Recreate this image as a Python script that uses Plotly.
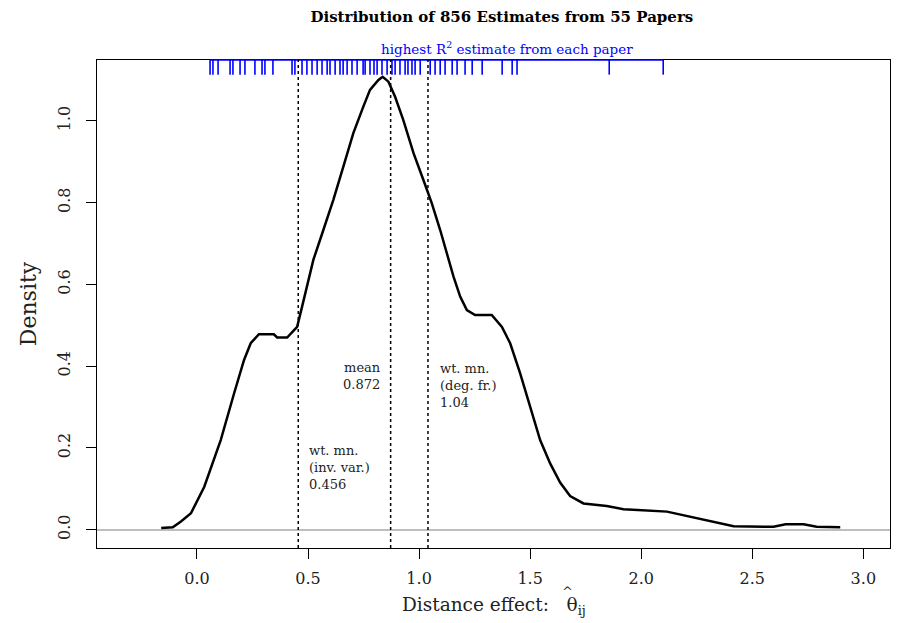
import plotly.graph_objects as go

# kernel density curve
dens_x = [-0.161, -0.109, -0.072, -0.027, 0.033, 0.107, 0.167, 0.212, 0.242, 0.279,
          0.346, 0.361, 0.406, 0.451, 0.473, 0.524, 0.569, 0.614, 0.659, 0.704,
          0.749, 0.779, 0.817, 0.836, 0.862, 0.892, 0.929, 0.975, 1.019, 1.057,
          1.095, 1.125, 1.155, 1.185, 1.215, 1.252, 1.327, 1.373, 1.410, 1.455,
          1.500, 1.545, 1.590, 1.635, 1.680, 1.740, 1.845, 1.920, 2.116, 2.191,
          2.251, 2.326, 2.416, 2.596, 2.650, 2.731, 2.790, 2.896]
dens_y = [0.004, 0.006, 0.020, 0.040, 0.105, 0.219, 0.333, 0.415, 0.456, 0.478,
          0.478, 0.470, 0.470, 0.496, 0.545, 0.660, 0.733, 0.807, 0.888, 0.970,
          1.035, 1.076, 1.100, 1.108, 1.096, 1.059, 1.002, 0.921, 0.856, 0.799,
          0.733, 0.676, 0.619, 0.570, 0.537, 0.525, 0.525, 0.496, 0.456, 0.382,
          0.301, 0.219, 0.162, 0.115, 0.082, 0.064, 0.058, 0.050, 0.044, 0.035,
          0.027, 0.019, 0.008, 0.007, 0.013, 0.013, 0.007, 0.006]

# highest R^2 estimate from each paper (rug)
rug = [0.059, 0.072, 0.095, 0.149, 0.162, 0.194, 0.216, 0.261, 0.293, 0.306,
       0.342, 0.428, 0.441, 0.473, 0.495, 0.518, 0.541, 0.563, 0.586, 0.599,
       0.622, 0.644, 0.658, 0.676, 0.698, 0.721, 0.748, 0.757, 0.779, 0.797,
       0.811, 0.833, 0.856, 0.878, 0.892, 0.914, 0.937, 0.950, 0.968, 0.982,
       1.005, 1.050, 1.072, 1.095, 1.117, 1.149, 1.171, 1.207, 1.239, 1.284,
       1.374, 1.419, 1.441, 1.856, 2.099]

# summary lines
mean_val = 0.872
wt_inv_var = 0.456
wt_deg_fr = 1.04

x_ticks = [0.0, 0.5, 1.0, 1.5, 2.0, 2.5, 3.0]
y_ticks = [0.0, 0.2, 0.4, 0.6, 0.8, 1.0]

xr = [-0.45, 3.12]
yr = [-0.045, 1.149]
FONT = "DejaVu Serif"
TXT = "#222"

fig = go.Figure()

fig.add_trace(go.Scatter(x=dens_x, y=dens_y, mode="lines",
                         line=dict(color="black", width=2.5), hoverinfo="skip"))

# rug ticks hanging from the top of the box
tick_len = 0.03 * (yr[1] - yr[0])
rx, ry = [], []
for v in rug:
    rx += [v, v, None]
    ry += [yr[1], yr[1] - tick_len, None]
fig.add_trace(go.Scatter(x=rx, y=ry, mode="lines",
                         line=dict(color="#0000FF", width=1.6), hoverinfo="skip"))

fig.add_shape(type="line", xref="x", yref="paper", x0=min(rug), x1=max(rug),
              y0=1, y1=1, line=dict(color="#0000FF", width=1.6))

for v in [wt_inv_var, mean_val, wt_deg_fr]:
    fig.add_shape(type="line", xref="x", yref="paper", x0=v, x1=v, y0=0, y1=1,
                  line=dict(color="black", width=1.5, dash="dot"))

fig.add_annotation(x=mean_val, y=0.376, xref="x", yref="y", xanchor="right",
                   xshift=-8, align="right", showarrow=False,
                   text=f"mean<br>{mean_val}", font=dict(family=FONT, size=13, color=TXT))
fig.add_annotation(x=wt_deg_fr, y=0.353, xref="x", yref="y", xanchor="left",
                   xshift=10, align="left", showarrow=False,
                   text=f"wt. mn.<br>(deg. fr.)<br>{wt_deg_fr}",
                   font=dict(family=FONT, size=13, color=TXT))
fig.add_annotation(x=wt_inv_var, y=0.153, xref="x", yref="y", xanchor="left",
                   xshift=9, align="left", showarrow=False,
                   text=f"wt. mn.<br>(inv. var.)<br>{wt_inv_var}",
                   font=dict(family=FONT, size=13, color=TXT))

fig.add_annotation(x=0.517, y=1, xref="paper", yref="paper", yanchor="bottom",
                   yshift=1, showarrow=False,
                   text="highest R<sup>2</sup> estimate from each paper",
                   font=dict(family=FONT, size=13.5, color="#0000FF"))

# x-axis title: theta with a hat placed over it
fig.add_annotation(x=0.5, y=-0.118, xref="paper", yref="paper", yanchor="middle",
                   showarrow=False,
                   text="Distance effect:   θ<sub>ij</sub>",
                   font=dict(family=FONT, size=18.5, color=TXT))
fig.add_annotation(x=0.5, y=-0.118, xref="paper", yref="paper", yanchor="middle",
                   xshift=74, yshift=14, showarrow=False, text="^",
                   font=dict(family=FONT, size=13, color=TXT))

# page body adds ~8px offset, so the figure is sized to fit inside the window
fig.update_layout(
    width=893, height=615,
    margin=dict(l=89, r=11, t=52, b=75),
    paper_bgcolor="white", plot_bgcolor="white",
    showlegend=False,
    font=dict(family=FONT, color=TXT),
    title=dict(text="<b>Distribution of 856 Estimates from 55 Papers</b>",
               x=0.553, xref="container", xanchor="center",
               y=0.985, yref="container", yanchor="middle",
               font=dict(family=FONT, size=15, color="black")),
)

fig.update_xaxes(range=xr, tickvals=x_ticks, ticktext=[f"{t:.1f}" for t in x_ticks],
                 showgrid=False, zeroline=False, automargin=False,
                 showline=True, mirror=True, linecolor="black", linewidth=1.3,
                 ticks="outside", ticklen=10, tickwidth=1.3, tickcolor="black",
                 ticklabelstandoff=6,
                 tickfont=dict(family=FONT, size=16, color=TXT))
fig.update_yaxes(range=yr, tickvals=y_ticks, ticktext=[f"{t:.1f}" for t in y_ticks],
                 showgrid=False, zeroline=True, zerolinecolor="#BEBEBE", zerolinewidth=1.5,
                 automargin=False,
                 showline=True, mirror=True, linecolor="black", linewidth=1.3,
                 ticks="outside", ticklen=10, tickwidth=1.3, tickcolor="black",
                 tickangle=-90, ticklabelstandoff=9,
                 tickfont=dict(family=FONT, size=16, color=TXT),
                 title=dict(text="Density", standoff=12,
                            font=dict(family=FONT, size=22, color=TXT)))

fig.write_html("out.html")
